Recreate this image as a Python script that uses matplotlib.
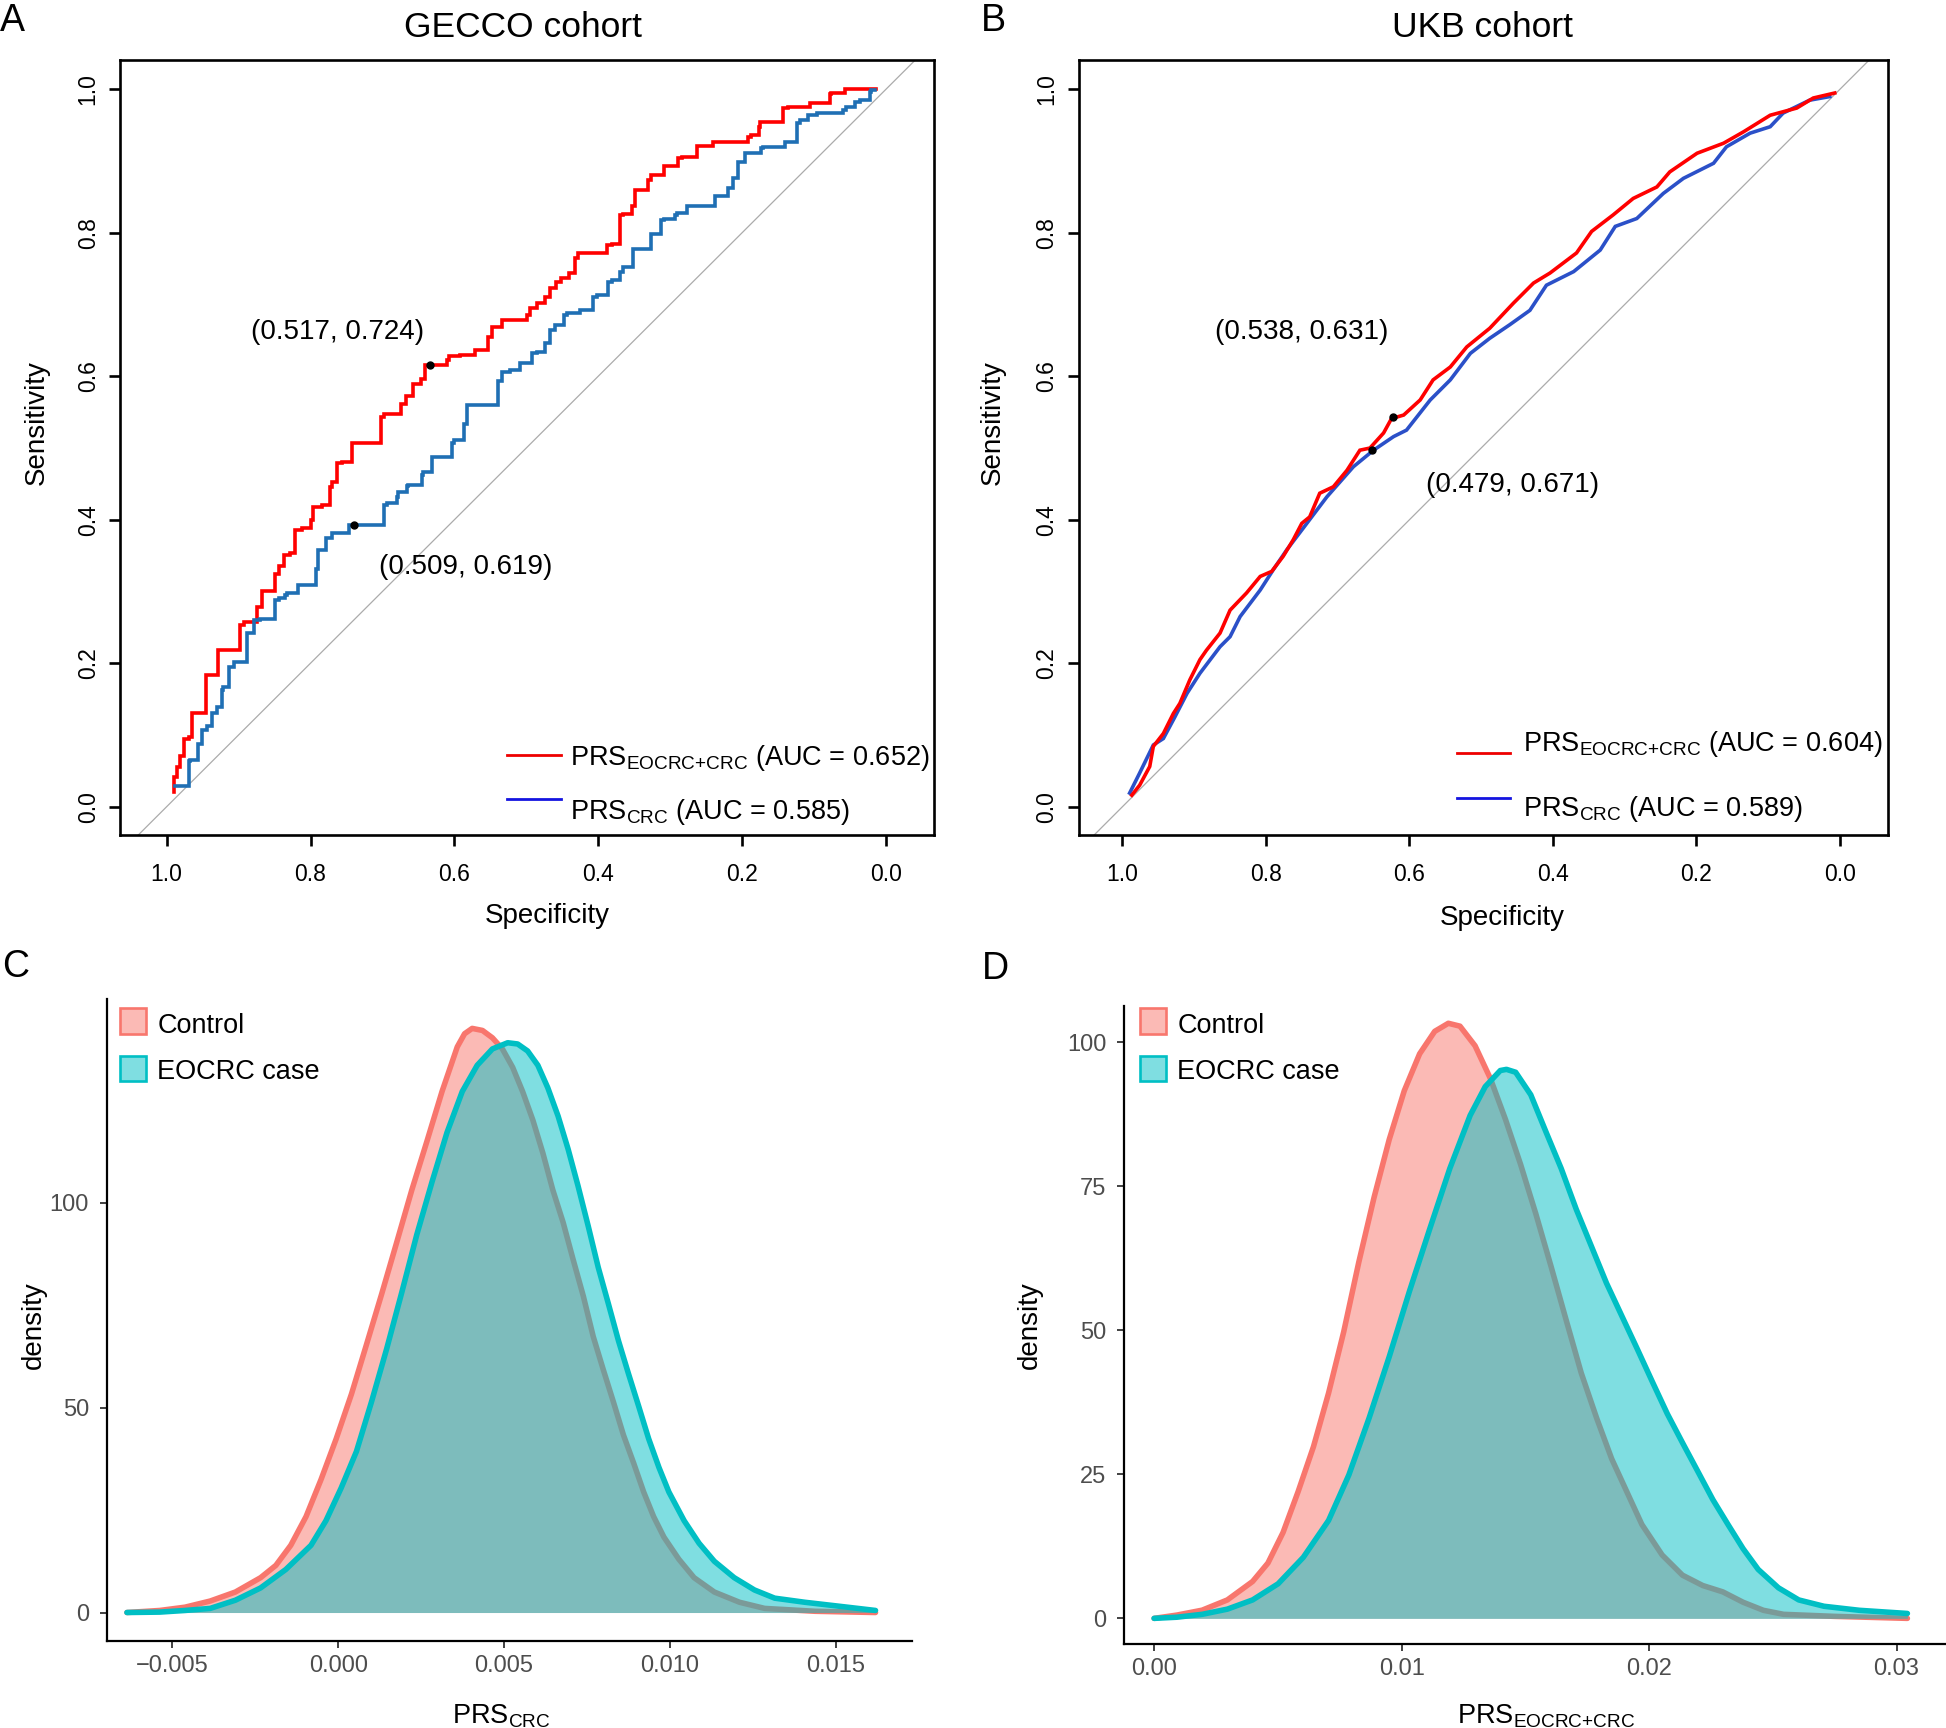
import matplotlib
matplotlib.use("Agg")
import matplotlib.pyplot as plt
from matplotlib.patches import Rectangle
from matplotlib.ticker import FormatStrFormatter

plt.rcParams["font.family"] = ["Liberation Sans", "DejaVu Sans"]
plt.rcParams["mathtext.fontset"] = "custom"
plt.rcParams["mathtext.rm"] = "Liberation Sans"
plt.rcParams["mathtext.it"] = "Liberation Sans"
plt.rcParams["mathtext.bf"] = "Liberation Sans:bold"
plt.rcParams["mathtext.default"] = "regular"

# ---------------- data ----------------
# A: GECCO cohort ROC (specificity, sensitivity)
gecco_eo_spec = [0.990, 0.986, 0.981, 0.976, 0.969, 0.965, 0.958, 0.946, 0.939, 0.928,
                 0.921, 0.898, 0.893, 0.874, 0.867, 0.860, 0.849, 0.844, 0.837, 0.828,
                 0.821, 0.812, 0.800, 0.796, 0.784, 0.773, 0.770, 0.763, 0.756, 0.742,
                 0.735, 0.702, 0.698, 0.674, 0.667, 0.657, 0.647, 0.641, 0.634, 0.610,
                 0.608, 0.592, 0.571, 0.569, 0.553, 0.548, 0.534, 0.525, 0.499, 0.495,
                 0.485, 0.474, 0.467, 0.458, 0.451, 0.441, 0.432, 0.428, 0.409, 0.388,
                 0.381, 0.370, 0.365, 0.353, 0.349, 0.346, 0.330, 0.326, 0.309, 0.307,
                 0.289, 0.284, 0.263, 0.263, 0.240, 0.240, 0.191, 0.187, 0.177, 0.175,
                 0.143, 0.136, 0.106, 0.106, 0.078, 0.076, 0.057, 0.055, 0.013]
gecco_eo_sens = [0.021, 0.042, 0.056, 0.070, 0.095, 0.097, 0.130, 0.130, 0.184, 0.184,
                 0.218, 0.218, 0.253, 0.258, 0.279, 0.300, 0.300, 0.325, 0.335, 0.351,
                 0.353, 0.386, 0.388, 0.400, 0.418, 0.420, 0.446, 0.453, 0.479, 0.481,
                 0.507, 0.507, 0.543, 0.547, 0.562, 0.572, 0.589, 0.596, 0.616, 0.616,
                 0.623, 0.628, 0.630, 0.636, 0.637, 0.655, 0.669, 0.678, 0.678, 0.686,
                 0.695, 0.702, 0.711, 0.723, 0.731, 0.737, 0.744, 0.765, 0.772, 0.772,
                 0.783, 0.785, 0.825, 0.826, 0.837, 0.860, 0.860, 0.874, 0.881, 0.893,
                 0.893, 0.905, 0.906, 0.920, 0.921, 0.927, 0.927, 0.934, 0.936, 0.948,
                 0.954, 0.974, 0.975, 0.981, 0.981, 0.994, 0.995, 1.000, 1.000]
gecco_crc_spec = [0.988, 0.969, 0.967, 0.956, 0.951, 0.944, 0.937, 0.930, 0.923, 0.921,
                  0.914, 0.907, 0.888, 0.879, 0.870, 0.849, 0.844, 0.835, 0.833, 0.817,
                  0.817, 0.793, 0.789, 0.779, 0.770, 0.761, 0.747, 0.740, 0.698, 0.694,
                  0.680, 0.678, 0.666, 0.664, 0.645, 0.643, 0.631, 0.627, 0.603, 0.601,
                  0.587, 0.583, 0.571, 0.539, 0.534, 0.522, 0.509, 0.504, 0.492, 0.485,
                  0.474, 0.467, 0.460, 0.448, 0.444, 0.425, 0.407, 0.402, 0.386, 0.381,
                  0.370, 0.365, 0.351, 0.342, 0.326, 0.319, 0.312, 0.309, 0.293, 0.291,
                  0.277, 0.275, 0.238, 0.235, 0.219, 0.212, 0.205, 0.196, 0.191, 0.173,
                  0.171, 0.140, 0.138, 0.124, 0.120, 0.108, 0.096, 0.059, 0.055, 0.043,
                  0.036, 0.022, 0.020, 0.015]
gecco_crc_sens = [0.029, 0.029, 0.063, 0.065, 0.088, 0.107, 0.112, 0.130, 0.139, 0.163,
                  0.167, 0.195, 0.202, 0.242, 0.260, 0.261, 0.288, 0.291, 0.295, 0.298,
                  0.309, 0.309, 0.332, 0.358, 0.374, 0.381, 0.381, 0.393, 0.393, 0.421,
                  0.423, 0.432, 0.439, 0.447, 0.448, 0.462, 0.466, 0.488, 0.488, 0.507,
                  0.511, 0.534, 0.560, 0.560, 0.593, 0.606, 0.609, 0.619, 0.619, 0.632,
                  0.634, 0.646, 0.665, 0.672, 0.686, 0.688, 0.692, 0.711, 0.713, 0.732,
                  0.734, 0.746, 0.753, 0.778, 0.778, 0.798, 0.799, 0.818, 0.820, 0.825,
                  0.827, 0.837, 0.837, 0.851, 0.851, 0.862, 0.876, 0.899, 0.912, 0.912,
                  0.918, 0.920, 0.926, 0.926, 0.953, 0.958, 0.964, 0.967, 0.971, 0.976,
                  0.983, 0.985, 0.997, 0.999]
gecco_dot_spec = [0.634, 0.740]
gecco_dot_sens = [0.616, 0.393]
gecco_notes = ["(0.517, 0.724)", "(0.509, 0.619)"]
gecco_auc = [0.652, 0.585]

# B: UKB cohort ROC
ukb_eo_spec = [0.987, 0.976, 0.962, 0.957, 0.943, 0.929, 0.920, 0.906, 0.892, 0.883,
               0.864, 0.850, 0.827, 0.808, 0.792, 0.776, 0.762, 0.750, 0.739, 0.725,
               0.706, 0.687, 0.669, 0.655, 0.636, 0.625, 0.608, 0.585, 0.567, 0.543,
               0.520, 0.488, 0.455, 0.427, 0.404, 0.367, 0.346, 0.316, 0.288, 0.255,
               0.237, 0.199, 0.162, 0.134, 0.097, 0.060, 0.037, 0.007]
ukb_eo_sens = [0.016, 0.030, 0.056, 0.084, 0.102, 0.130, 0.144, 0.177, 0.205, 0.218,
               0.242, 0.274, 0.298, 0.321, 0.328, 0.349, 0.372, 0.395, 0.404, 0.437,
               0.446, 0.469, 0.497, 0.500, 0.521, 0.541, 0.546, 0.567, 0.595, 0.613,
               0.641, 0.667, 0.702, 0.730, 0.744, 0.772, 0.802, 0.825, 0.848, 0.864,
               0.885, 0.911, 0.925, 0.941, 0.964, 0.974, 0.988, 0.995]
ukb_crc_spec = [0.990, 0.976, 0.957, 0.943, 0.927, 0.910, 0.892, 0.864, 0.850, 0.836,
                0.808, 0.790, 0.771, 0.743, 0.715, 0.678, 0.650, 0.622, 0.604, 0.571,
                0.543, 0.515, 0.488, 0.460, 0.432, 0.409, 0.371, 0.334, 0.313, 0.283,
                0.246, 0.218, 0.176, 0.158, 0.125, 0.097, 0.079, 0.042, 0.014]
ukb_crc_sens = [0.019, 0.047, 0.086, 0.095, 0.125, 0.158, 0.186, 0.223, 0.237, 0.265,
                0.302, 0.330, 0.358, 0.395, 0.432, 0.474, 0.497, 0.516, 0.525, 0.567,
                0.595, 0.632, 0.653, 0.672, 0.692, 0.727, 0.746, 0.776, 0.809, 0.820,
                0.855, 0.876, 0.897, 0.920, 0.939, 0.948, 0.967, 0.985, 0.990]
ukb_dot_spec = [0.623, 0.652]
ukb_dot_sens = [0.543, 0.497]
ukb_notes = ["(0.538, 0.631)", "(0.479, 0.671)"]
ukb_auc = [0.604, 0.589]

roc_ticks = [0.0, 0.2, 0.4, 0.6, 0.8, 1.0]

# C: density of PRS_CRC
c_ctrl_x = [-0.00637, -0.00538, -0.00462, -0.00386, -0.00310, -0.00234, -0.00188, -0.00143,
            -0.00097, -0.00052, -0.00006, 0.00040, 0.00085, 0.00131, 0.00176, 0.00222,
            0.00268, 0.00313, 0.00359, 0.00381, 0.00404, 0.00435, 0.00465, 0.00495,
            0.00526, 0.00556, 0.00587, 0.00617, 0.00647, 0.00678, 0.00708, 0.00739,
            0.00769, 0.00799, 0.00830, 0.00860, 0.00891, 0.00921, 0.00951, 0.00982,
            0.01027, 0.01073, 0.01134, 0.01210, 0.01286, 0.01438, 0.01620]
c_ctrl_y = [0, 0.5, 1.3, 2.8, 5.0, 8.5, 11.5, 16.4, 23.4, 32.4, 42.4, 53.3, 65.3, 77.7,
            90.2, 103.1, 115.1, 127.1, 138.0, 141.2, 142.5, 142.0, 140.2, 137.5, 133.0,
            127.1, 120.1, 112.1, 103.1, 95.2, 86.2, 77.2, 67.3, 59.3, 51.3, 43.3, 36.4,
            29.4, 23.4, 18.4, 13.0, 8.5, 5.0, 2.5, 1.0, 0.3, 0.0]
c_case_x = [-0.00637, -0.00538, -0.00462, -0.00386, -0.00310, -0.00234, -0.00158, -0.00082,
            -0.00037, 0.00009, 0.00055, 0.00100, 0.00146, 0.00192, 0.00237, 0.00283,
            0.00328, 0.00374, 0.00419, 0.00465, 0.00511, 0.00541, 0.00571, 0.00602,
            0.00632, 0.00663, 0.00693, 0.00723, 0.00754, 0.00784, 0.00815, 0.00845,
            0.00875, 0.00906, 0.00936, 0.00967, 0.00997, 0.01043, 0.01088, 0.01134,
            0.01194, 0.01255, 0.01316, 0.01407, 0.01514, 0.01620]
c_case_y = [0, 0.1, 0.5, 1.0, 3.0, 6.0, 10.5, 16.4, 22.4, 30.4, 39.3, 51.3, 64.3, 78.2,
            92.2, 105.1, 117.1, 127.1, 133.5, 137.5, 139.0, 138.7, 137.0, 133.5, 128.0,
            121.1, 113.1, 104.1, 94.2, 84.2, 75.2, 66.3, 58.3, 50.3, 42.4, 35.4, 29.4,
            22.4, 16.9, 12.5, 8.5, 5.5, 3.5, 2.5, 1.5, 0.5]
c_xticks = [-0.005, 0.0, 0.005, 0.010, 0.015]
c_xlabels = ["\u22120.005", "0.000", "0.005", "0.010", "0.015"]
c_yticks = [0, 50, 100]

# D: density of PRS_EOCRC+CRC
d_ctrl_x = [0, 0.00092, 0.00194, 0.00296, 0.00398, 0.00460, 0.00521, 0.00582, 0.00644,
            0.00705, 0.00766, 0.00827, 0.00889, 0.00950, 0.01011, 0.01073, 0.01134,
            0.01189, 0.01236, 0.01297, 0.01359, 0.01420, 0.01481, 0.01542, 0.01604,
            0.01665, 0.01726, 0.01788, 0.01849, 0.01910, 0.01971, 0.02053, 0.02135,
            0.02217, 0.02298, 0.02380, 0.02462, 0.02544, 0.02748, 0.03044]
d_ctrl_y = [0, 0.57, 1.42, 3.2, 6.4, 9.6, 14.9, 22.0, 29.8, 39.1, 49.7, 61.8, 73.1, 83.1,
            91.6, 98.0, 101.9, 103.3, 102.8, 99.4, 93.7, 86.6, 78.8, 70.3, 61.1, 51.8,
            42.6, 34.8, 27.7, 22.0, 16.3, 11.0, 7.5, 5.7, 4.6, 2.8, 1.4, 0.7, 0.35, 0]
d_case_x = [0, 0.00092, 0.00194, 0.00296, 0.00398, 0.00501, 0.00603, 0.00705, 0.00787,
            0.00869, 0.00950, 0.01032, 0.01113, 0.01195, 0.01277, 0.01338, 0.01399,
            0.01424, 0.01461, 0.01522, 0.01583, 0.01645, 0.01706, 0.01767, 0.01828,
            0.01890, 0.01951, 0.02012, 0.02074, 0.02135, 0.02196, 0.02258, 0.02319,
            0.02380, 0.02441, 0.02523, 0.02605, 0.02707, 0.02850, 0.03044]
d_case_y = [0, 0.2, 0.7, 1.6, 3.2, 6.0, 10.6, 17.0, 24.9, 34.8, 45.4, 56.8, 67.5, 78.1,
            87.3, 92.3, 95.1, 95.3, 94.8, 90.9, 84.5, 78.1, 71.0, 64.6, 58.2, 52.5, 46.9,
            41.2, 35.5, 30.5, 25.6, 20.6, 16.3, 12.1, 8.5, 5.3, 3.2, 2.1, 1.4, 0.85]
d_xticks = [0.0, 0.01, 0.02, 0.03]
d_xlabels = ["0.00", "0.01", "0.02", "0.03"]
d_yticks = [0, 25, 50, 75, 100]

groups = ["Control", "EOCRC case"]
group_colors = ["#F8766D", "#00BFC4"]

# subscripts: "{+}" keeps mathtext from padding the plus sign
LAB_EO = "PRS$_{EOCRC{+}CRC}$"
LAB_CRC = "PRS$_{CRC}$"

# ---------------- figure ----------------
W, H = 1946, 1728
fig = plt.figure(figsize=(W / 100, H / 100), dpi=100)


def fx(x):
    return x / W


def fy(y):
    return 1 - y / H


def add_ax(left, top, right, bottom):
    return fig.add_axes([fx(left), fy(bottom), (right - left) / W, (bottom - top) / H])


def roc_panel(ax, curves, stepped, dots, notes, note_pos, legend, xlim):
    ax.axline((1, 0), slope=-1, color="#ABABAB", lw=0.9, zorder=1)
    for spec, sens, col in curves:
        ax.plot(spec, sens, color=col, lw=2.6, zorder=2,
                drawstyle="steps-pre" if stepped else "default",
                solid_joinstyle="miter")
    ax.plot(dots[0], dots[1], "o", color="black", ms=5, zorder=3)
    for txt, (sx, sy) in zip(notes, note_pos):
        ax.text(sx, sy, txt, fontsize=20, ha="center", va="center")
    ax.set_xlim(*xlim)
    ax.set_ylim(-0.0399, 1.041)
    ax.set_xticks(roc_ticks)
    ax.set_yticks(roc_ticks)
    ax.xaxis.set_major_formatter(FormatStrFormatter("%.1f"))
    ax.yaxis.set_major_formatter(FormatStrFormatter("%.1f"))
    ax.tick_params(direction="out", length=8.1, width=1.9, labelsize=16.5)
    ax.tick_params(axis="x", pad=11.5)
    ax.tick_params(axis="y", pad=6.5, labelrotation=90)
    for lbl in ax.get_yticklabels():
        lbl.set_va("center")
    for s in ax.spines.values():
        s.set_linewidth(1.9)
    # legend drawn by hand (lines + mathtext labels)
    (lx0, lx1, tx), rows = legend
    for (ly, ty, col, label) in rows:
        ax.plot([lx0, lx1], [ly, ly], color=col, lw=2.0, transform=ax.transAxes,
                clip_on=False)
        ax.text(tx, ty, label, fontsize=19.5, ha="left", va="baseline",
                transform=ax.transAxes)


# panel A
ax_a = add_ax(120, 60, 934, 835.3)
roc_panel(
    ax_a,
    [(gecco_eo_spec, gecco_eo_sens, "#FF0000"), (gecco_crc_spec, gecco_crc_sens, "#1F6FB4")],
    True,
    (gecco_dot_spec, gecco_dot_sens),
    gecco_notes,
    [(0.763, 0.662), (0.584, 0.334)],
    ((0.4751, 0.5414, 0.5528),
     [(0.1042, 0.0911, "#EE0000", LAB_EO + " (AUC = %.3f)" % gecco_auc[0]),
      (0.0462, 0.0215, "#1414E0", LAB_CRC + " (AUC = %.3f)" % gecco_auc[1])]),
    (1.0649, -0.067),
)

# panel B
ax_b = add_ax(1078.5, 60, 1888, 835.3)
roc_panel(
    ax_b,
    [(ukb_crc_spec, ukb_crc_sens, "#2B50C8"), (ukb_eo_spec, ukb_eo_sens, "#FF0000")],
    False,
    (ukb_dot_spec, ukb_dot_sens),
    ukb_notes,
    [(0.750, 0.662), (0.456, 0.449)],
    ((0.4671, 0.5332, 0.5485),
     [(0.1065, 0.1089, "#EE0000", LAB_EO + " (AUC = %.3f)" % ukb_auc[0]),
      (0.0485, 0.0254, "#1414E0", LAB_CRC + " (AUC = %.3f)" % ukb_auc[1])]),
    (1.0613, -0.0672),
)

# titles, axis titles, panel letters for the ROC row
fig.text(fx(523.5), fy(36.7), "GECCO cohort", fontsize=25.5, ha="center", va="baseline")
fig.text(fx(1482), fy(36.7), "UKB cohort", fontsize=25.5, ha="center", va="baseline")
fig.text(fx(547), fy(923), "Specificity", fontsize=20, ha="center", va="baseline")
fig.text(fx(1502), fy(925), "Specificity", fontsize=20, ha="center", va="baseline")
fig.text(fx(37), fy(423), "Sensitivity", fontsize=20, ha="center", va="center", rotation=90)
fig.text(fx(993), fy(423), "Sensitivity", fontsize=20, ha="center", va="center", rotation=90)
fig.text(fx(0), fy(30.7), "A", fontsize=27, ha="left", va="baseline")
fig.text(fx(981), fy(30.7), "B", fontsize=27, ha="left", va="baseline")
fig.text(fx(2), fy(977), "C", fontsize=27, ha="left", va="baseline")
fig.text(fx(982), fy(979), "D", fontsize=27, ha="left", va="baseline")


def density_panel(ax, series, xticks, xlabels, yticks, xlim, ylim):
    # each group: fill then outline, later groups stacked on top (ggplot order)
    z = 1
    for x, y, col in series:
        ax.fill_between(x, y, 0, color=col, alpha=0.5, lw=0, zorder=z)
        ax.plot(x, y, color=col, lw=4.0, solid_capstyle="round",
                solid_joinstyle="round", zorder=z + 1)
        z += 2
    ax.set_xlim(*xlim)
    ax.set_ylim(*ylim)
    ax.set_xticks(xticks)
    ax.set_xticklabels(xlabels)
    ax.set_yticks(yticks)
    ax.set_yticklabels([str(v) for v in yticks])
    for side in ("top", "right"):
        ax.spines[side].set_visible(False)
    for side in ("left", "bottom"):
        ax.spines[side].set_linewidth(1.6)
    ax.tick_params(direction="out", length=5.3, width=1.3, color="#333333",
                   labelcolor="#4D4D4D", labelsize=17)
    ax.tick_params(axis="x", pad=5)
    ax.tick_params(axis="y", pad=7.5)


ax_c = add_ax(106.7, 999.3, 912, 1641)
density_panel(ax_c, [(c_ctrl_x, c_ctrl_y, group_colors[0]), (c_case_x, c_case_y, group_colors[1])],
              c_xticks, c_xlabels, c_yticks, (-0.00698, 0.01730), (-6.95, 149.6))

ax_d = add_ax(1124.4, 1006, 1946, 1644)
density_panel(ax_d, [(d_ctrl_x, d_ctrl_y, group_colors[0]), (d_case_x, d_case_y, group_colors[1])],
              d_xticks, d_xlabels, d_yticks, (-0.0012, 0.0320), (-4.45, 106.3))

# density legends (filled keys with coloured border)
for key_x in (120, 1140):
    for (top, base, name, col) in [(1008, 1033.3, groups[0], group_colors[0]),
                                   (1055.5, 1079, groups[1], group_colors[1])]:
        fig.add_artist(Rectangle((fx(key_x), fy(top + 25.5)), 25.5 / W, 25.5 / H,
                                 transform=fig.transFigure, facecolor=col, alpha=0.5,
                                 edgecolor="none"))
        fig.add_artist(Rectangle((fx(key_x), fy(top + 25.5)), 25.5 / W, 25.5 / H,
                                 transform=fig.transFigure, facecolor="none",
                                 edgecolor=col, lw=1.9))
        fig.text(fx(key_x + 37.3), fy(base), name, fontsize=19.5, ha="left", va="baseline")

fig.text(fx(34), fy(1325), "density", fontsize=20, ha="center", va="center", rotation=90)
fig.text(fx(1030), fy(1325), "density", fontsize=20, ha="center", va="center", rotation=90)
fig.text(fx(501), fy(1723), LAB_CRC, fontsize=19.5, ha="center", va="baseline")
fig.text(fx(1546), fy(1723), LAB_EO, fontsize=19.5, ha="center", va="baseline")

fig.savefig("out.png", dpi=100)
